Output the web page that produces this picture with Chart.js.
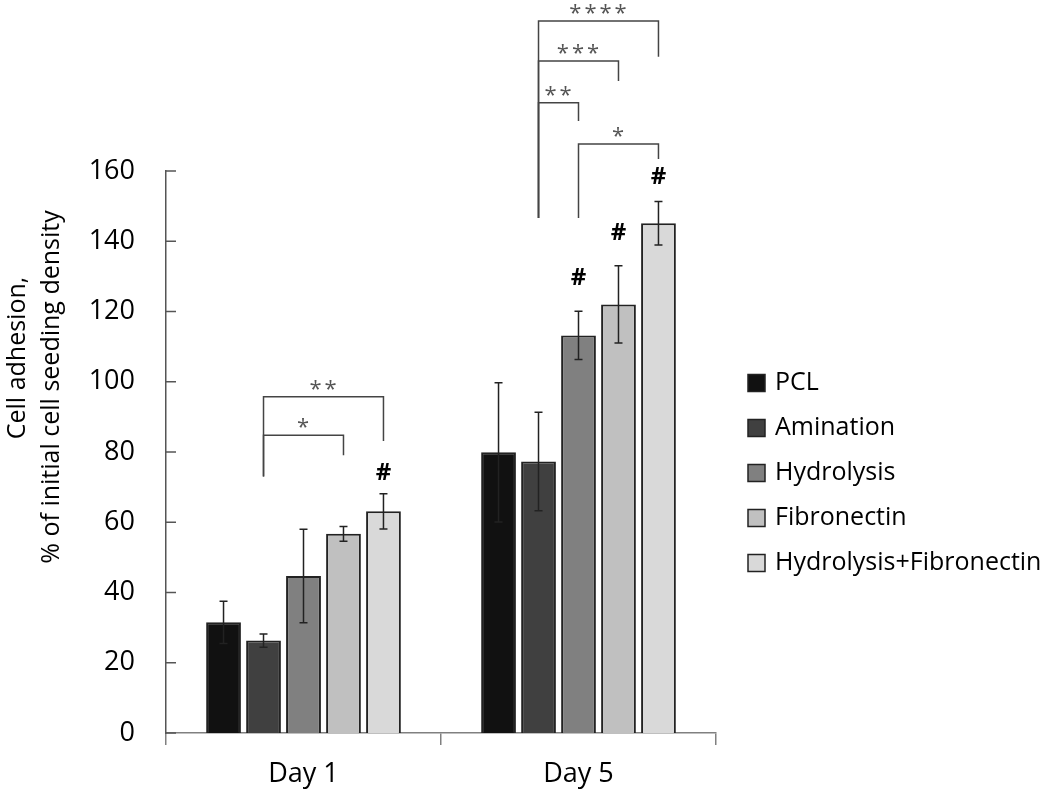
<!DOCTYPE html>
<html>
<head>
<meta charset="utf-8">
<script src="https://cdn.jsdelivr.net/npm/chart.js@4.4.0/dist/chart.umd.min.js"></script>
<style>
    html, body { margin: 0; padding: 0; background: #fff; }
    #wrap { width: 1050px; height: 793px; }
</style>
</head>
<body>
<div id="wrap"><canvas id="myChart" width="1050" height="793"></canvas></div>
<script>
// categories and series
const dias = ["Day 1", "Day 5"];
const grupos = ["PCL", "Amination", "Hydrolysis", "Fibronectin", "Hydrolysis+Fibronectin"];
const colores = ["#111111", "#404040", "#808080", "#c0c0c0", "#d9d9d9"];

// mean values per group: [Day 1, Day 5]
const pcl = [31.5, 79.9];
const aminacion = [26.3, 77.3];
const hidrolisis = [44.7, 113.2];
const fibronectina = [56.7, 122.0];
const hidroFibro = [63.1, 145.1];
const medias = [pcl, aminacion, hidrolisis, fibronectina, hidroFibro];

// error (+/-) per group
const errPcl = [6.0, 19.8];
const errAminacion = [1.9, 14.0];
const errHidrolisis = [13.3, 6.9];
const errFibronectina = [2.1, 11.0];
const errHidroFibro = [5.0, 6.2];
const errores = [errPcl, errAminacion, errHidrolisis, errFibronectina, errHidroFibro];

const yTicks = [0, 20, 40, 60, 80, 100, 120, 140, 160];

// significance brackets (day, from bar, to bar, top value, left leg end, right leg end, label)
const corchetes = [
    [0, 1, 3, 84.8, 73.0, 79.1, "*"],
    [0, 1, 4, 95.7, 73.0, 83.1, "**"],
    [1, 1, 4, 202.7, 146.6, 192.5, "****"],
    [1, 1, 3, 191.3, 146.6, 185.6, "***"],
    [1, 1, 2, 179.4, 146.6, 174.2, "**"],
    [1, 2, 4.13, 167.7, 146.6, 163.4, "*"]
];

// "#" marks (day, bar, value)
const almohadillas = [
    [0, 4, 74.0],
    [1, 2, 129.5],
    [1, 3, 142.3],
    [1, 4, 158.3]
];

window.onload = main;

function main() {
    dibujar();
}

function barX(chart, day, bar) {
    // fractional bar index allowed
    var b = Math.floor(bar);
    var frac = bar - b;
    var x = chart.getDatasetMeta(b).data[day].x;
    if (frac > 0 && b + 1 < grupos.length) {
        var x2 = chart.getDatasetMeta(b + 1).data[day].x;
        x = x + (x2 - x) * frac;
    }
    return x;
}

const extras = {
    id: "extras",
    afterDatasetsDraw(chart) {
        const ctx = chart.ctx;
        const y = chart.scales.y;
        ctx.save();

        // error bars
        ctx.strokeStyle = "#222";
        ctx.lineWidth = 1.5;
        for (let i = 0; i < grupos.length; i++) {
            const meta = chart.getDatasetMeta(i);
            for (let d = 0; d < dias.length; d++) {
                const x = meta.data[d].x;
                const top = y.getPixelForValue(medias[i][d] + errores[i][d]);
                const bot = y.getPixelForValue(medias[i][d] - errores[i][d]);
                ctx.beginPath();
                ctx.moveTo(x, top); ctx.lineTo(x, bot);
                ctx.moveTo(x - 4, top); ctx.lineTo(x + 4, top);
                ctx.moveTo(x - 4, bot); ctx.lineTo(x + 4, bot);
                ctx.stroke();
            }
        }

        // y axis tick marks (inside)
        ctx.strokeStyle = "#555";
        ctx.lineWidth = 1.5;
        const left = chart.chartArea.left;
        y.ticks.forEach(t => {
            const py = y.getPixelForValue(t.value);
            ctx.beginPath();
            ctx.moveTo(left, py); ctx.lineTo(left + 10, py);
            ctx.stroke();
        });

        // brackets
        ctx.strokeStyle = "#444";
        ctx.lineWidth = 1.5;
        ctx.fillStyle = "#555";
        ctx.font = "22px 'Open Sans'";
        ctx.textAlign = "center";
        ctx.textBaseline = "alphabetic";
        corchetes.forEach(c => {
            const x1 = barX(chart, c[0], c[1]);
            const x2 = barX(chart, c[0], c[2]);
            const yt = y.getPixelForValue(c[3]);
            ctx.beginPath();
            ctx.moveTo(x1, y.getPixelForValue(c[4]));
            ctx.lineTo(x1, yt);
            ctx.lineTo(x2, yt);
            ctx.lineTo(x2, y.getPixelForValue(c[5]));
            ctx.stroke();
            ctx.letterSpacing = "3px";
            ctx.fillText(c[6], (x1 + x2) / 2 + 1, yt - 1);
            ctx.letterSpacing = "0px";
        });

        // # marks
        ctx.fillStyle = "#000";
        ctx.font = "bold 24px 'Open Sans'";
        ctx.textBaseline = "middle";
        almohadillas.forEach(h => {
            ctx.fillText("#", barX(chart, h[0], h[1]), y.getPixelForValue(h[2]));
        });

        // y axis title
        ctx.font = "25px 'Open Sans'";
        ctx.fillStyle = "#000";
        ctx.save();
        ctx.translate(18, 358);
        ctx.rotate(-Math.PI / 2);
        ctx.fillText("Cell adhesion,", 0, 0);
        ctx.restore();
        ctx.save();
        ctx.translate(52, 387);
        ctx.rotate(-Math.PI / 2);
        ctx.fillText("% of initial cell seeding density", 0, 0);
        ctx.restore();

        // legend
        ctx.textAlign = "left";
        ctx.font = "25px 'Open Sans'";
        for (let i = 0; i < grupos.length; i++) {
            const cy = 383 + i * 45;
            ctx.fillStyle = colores[i];
            ctx.fillRect(748, cy - 8.5, 17, 17);
            ctx.strokeStyle = "#222";
            ctx.lineWidth = 1.5;
            ctx.strokeRect(748, cy - 8.5, 17, 17);
            ctx.fillStyle = "#000";
            ctx.fillText(grupos[i], 775, cy);
        }

        ctx.restore();
    }
};

function dibujar() {
    const datasets = grupos.map((g, i) => ({
        label: g,
        data: medias[i],
        backgroundColor: colores[i],
        borderColor: "#222",
        borderWidth: 2,
        categoryPercentage: 0.727,
        barPercentage: 0.87
    }));

    const ctx = document.getElementById("myChart").getContext("2d");
    const myChart = new Chart(ctx, {
        type: "bar",
        data: {
            labels: dias,
            datasets: datasets
        },
        options: {
            responsive: false,
            animation: false,
            layout: { padding: { top: 171, right: 334, left: 0, bottom: 0 } },
            plugins: {
                legend: { display: false },
                tooltip: { enabled: false }
            },
            scales: {
                x: {
                    offset: true,
                    grid: { display: true, drawOnChartArea: false, drawTicks: true, tickLength: 12, color: "#808080", lineWidth: 1.5, offset: true },
                    border: { color: "#808080", width: 1.5 },
                    ticks: { color: "#000", font: { family: "Open Sans", size: 27 }, padding: 13 },
                    afterFit: s => { s.height = 60; }
                },
                y: {
                    min: 0,
                    max: 160,
                    afterBuildTicks: s => { s.ticks = yTicks.map(v => ({ value: v })); },
                    grid: { display: false, drawTicks: false },
                    border: { color: "#555", width: 1.5 },
                    ticks: { color: "#000", font: { family: "Open Sans", size: 27 }, padding: 31 },
                    afterFit: s => { s.width = 166; }
                }
            }
        },
        plugins: [extras]
    });
}
</script>
</body>
</html>
